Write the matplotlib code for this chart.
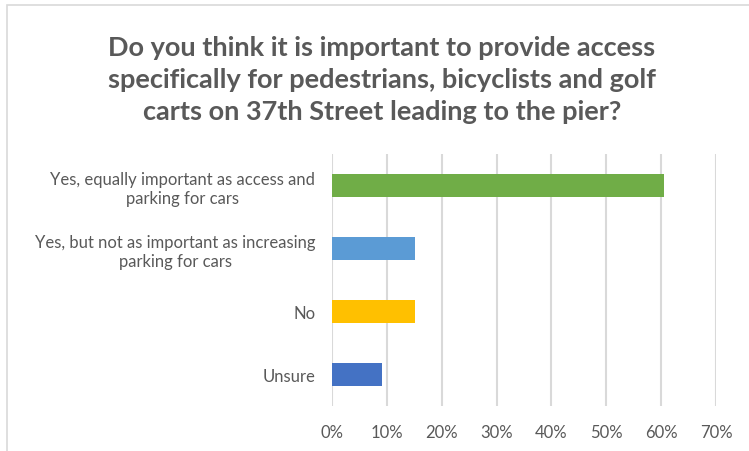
import numpy as np
import matplotlib.pyplot as plt
from matplotlib.patches import Rectangle

# 调查结果（百分比）
categories = ['Yes, equally important as access and\nparking for cars',
              'Yes, but not as important as increasing\nparking for cars',
              'No',
              'Unsure']
values = [60.5, 15.2, 15.2, 9.2]
colors = ['#70ad47', '#5b9bd5', '#ffc000', '#4472c4']
xticks = [0, 10, 20, 30, 40, 50, 60, 70]
title = ('Do you think it is important to provide access\n'
         'specifically for pedestrians, bicyclists and golf\n'
         'carts on 37th Street leading to the pier?')

W, H = 749, 452
fig = plt.figure(figsize=(W / 100, H / 100), dpi=100)
ax = fig.add_axes([332 / W, 1 - 407 / H, (716 - 332) / W, (407 - 155) / H])

y = np.arange(len(categories))
ax.barh(y, values, height=0.37, color=colors, zorder=3)
ax.set_ylim(len(categories) - 0.5, -0.5)
ax.set_xlim(0, 70)

ax.set_xticks(xticks)
ax.set_xticklabels(['%d%%' % t for t in xticks])
ax.set_yticks(y)
ax.set_yticklabels(categories, multialignment='center')

for lab in ax.get_xticklabels() + ax.get_yticklabels():
    lab.set_fontfamily('Lato')
    lab.set_fontsize(12)
    lab.set_color('#595959')

ax.tick_params(axis='both', length=0)
ax.tick_params(axis='x', pad=13)
ax.tick_params(axis='y', pad=12)
ax.grid(axis='x', color='#d9d9d9', lw=1.5, zorder=0)
for s in ax.spines.values():
    s.set_visible(False)

fig.text(382 / W, 1 - 80 / H, title, ha='center', va='center',
         fontsize=19.5, fontweight='bold', color='#595959',
         family='Lato', linespacing=1.42)

# 外框
fig.patches.append(Rectangle((7 / W, -0.1), 1.2, 1 - 6 / H + 0.1,
                             transform=fig.transFigure, fill=False,
                             edgecolor='#d9d9d9', lw=1.2))

plt.savefig('out.png', dpi=100)
plt.close()
